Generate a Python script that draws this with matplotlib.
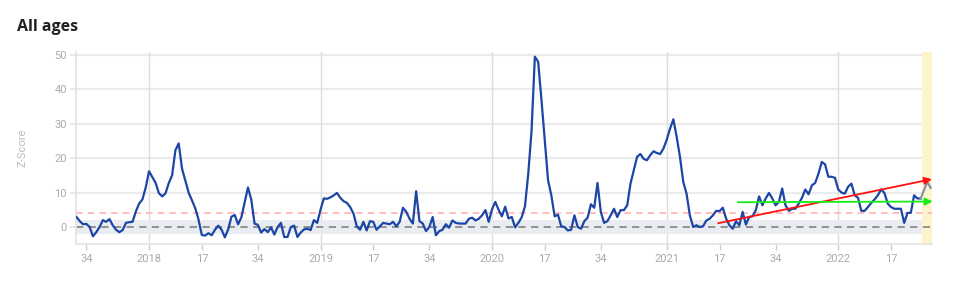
import matplotlib
matplotlib.use('Agg')
import matplotlib.pyplot as plt

# ---------------- data ----------------
start_year, start_week = 2017, 31
weeks_in_year = {2017: 52, 2018: 52, 2019: 52, 2020: 53, 2021: 52, 2022: 52}
tick_weeks = [1, 17, 34]

zscore = [
    2.9, 1.7, 0.8, 0.9, 0.0, -2.7, -1.5, 0.0, 2.0, 1.5,
    2.3, 0.5, -0.8, -1.5, -0.9, 1.2, 1.4, 1.5, 4.5, 6.8,
    8.0, 11.5, 16.2, 14.5, 12.8, 9.8, 8.9, 9.8, 12.8, 15.0,
    22.3, 24.3, 17.0, 13.5, 10.0, 7.8, 5.5, 2.2, -2.3, -2.5,
    -1.8, -2.4, -0.8, 0.4, -0.8, -3.0, -0.7, 3.0, 3.5, 0.8,
    2.8, 7.2, 11.5, 8.0, 1.0, 0.6, -1.6, -0.6, -1.5, -0.1,
    -2.2, 0.0, 1.2, -2.9, -2.9, 0.0, 0.4, -2.9, -1.6, -0.7,
    -0.5, -0.9, 2.0, 1.2, 5.0, 8.3, 8.2, 8.6, 9.2, 9.9,
    8.5, 7.5, 7.0, 5.8, 3.9, 0.2, -0.8, 1.5, -1.0, 1.7,
    1.5, -0.8, 0.2, 1.2, 1.0, 0.8, 1.5, 0.2, 1.5, 5.6,
    4.4, 2.4, 1.0, 10.4, 1.7, 1.0, -1.2, 0.0, 2.9, -2.4,
    -1.2, -0.8, 0.8, -0.2, 1.9, 1.2, 1.0, 1.0, 1.0, 2.4,
    2.7, 1.9, 2.4, 3.4, 4.9, 1.5, 5.1, 7.3, 5.0, 3.1,
    5.9, 2.5, 2.9, -0.1, 1.2, 2.8, 6.0, 15.5, 28.0, 49.5,
    48.0, 37.0, 25.2, 13.6, 9.2, 3.1, 3.6, 0.2, 0.0, -1.0,
    -0.8, 3.4, 0.0, -0.5, 1.7, 2.7, 6.6, 5.6, 12.8, 4.4,
    1.2, 1.7, 3.4, 5.3, 2.9, 4.9, 4.9, 6.3, 12.6, 16.5,
    20.4, 21.2, 19.8, 19.4, 20.9, 22.0, 21.5, 21.2, 22.8, 25.4,
    28.6, 31.3, 26.2, 20.4, 13.1, 9.7, 3.4, 0.0, 0.5, 0.0,
    0.2, 1.9, 2.4, 3.4, 4.7, 4.6, 5.6, 2.4, 0.5, -0.5,
    1.7, 0.5, 4.4, 0.7, 2.9, 3.1, 4.9, 8.9, 6.3, 8.3,
    9.9, 8.3, 6.3, 7.3, 11.2, 6.3, 4.7, 5.3, 5.3, 6.8,
    8.5, 10.9, 9.5, 12.1, 12.8, 15.5, 18.9, 18.2, 14.6, 14.6,
    14.3, 10.9, 10.0, 9.7, 11.7, 12.6, 9.2, 8.5, 4.7, 4.7,
    5.8, 7.0, 8.0, 9.2, 10.9, 9.9, 6.8, 5.8, 5.3, 5.3,
    5.3, 1.2, 4.1, 4.1, 9.2, 8.3, 8.3, 10.7, 13.1, 11.4,
]
highlight_weeks = 3          # last weeks (provisional) shaded yellow
baseline_band = (-2, 2)
threshold = 4.2
red_trend = [(194.6, 1.1), (259.4, 13.9)]
green_trend = [(200.5, 7.2), (259.6, 7.4)]

# ---------------- week labels ----------------
yw = []
y, w = start_year, start_week
for _ in range(len(zscore)):
    yw.append((y, w))
    w += 1
    if w > weeks_in_year[y]:
        y += 1
        w = 1
x = list(range(len(zscore)))
tick_pos = [i for i, (yy, ww) in enumerate(yw) if ww in tick_weeks]
tick_lab = [str(yy) if ww == 1 else str(ww) for (yy, ww) in (yw[i] for i in tick_pos)]
year_pos = [i for i, (yy, ww) in enumerate(yw) if ww == 1]

# ---------------- figure ----------------
plt.rcParams['font.family'] = ['Roboto', 'DejaVu Sans']
fig = plt.figure(figsize=(9.73, 2.82), dpi=100)
ax = fig.add_axes([0.0786, 0.134, 0.8795, 0.681])

n = len(zscore)
ax.set_xlim(0, n - 0.5)
ax.set_ylim(-5, 50.8)

# grid
for v in [0, 10, 20, 30, 40, 50]:
    ax.axhline(v, color='#ebebeb', lw=1.6, zorder=0)
for p in year_pos:
    ax.axvline(p, color='#dcdcdc', lw=1.0, zorder=0)

# bands
ax.axhspan(baseline_band[0], baseline_band[1], color='#e9edf2', zorder=1, lw=0)
ax.axvspan(n - highlight_weeks - 0.5, n - 0.5, color='#fdf4cc', zorder=1.5, lw=0)

# reference lines
ax.axhline(0, color='#8a8a8a', lw=1.3, ls=(0, (4, 3)), zorder=2)
ax.axhline(threshold, color='#ffb3b3', lw=1.2, ls=(0, (4, 3)), zorder=2)

# data line
split = n - highlight_weeks - 1
ax.plot(x[:split + 1], zscore[:split + 1], color='#1c46a6', lw=1.6, zorder=4,
        solid_joinstyle='round')
ax.plot(x[split:], zscore[split:], color='#8593a8', lw=1.6, zorder=4,
        solid_joinstyle='round')

# trend arrows
for pts, col in [(red_trend, '#ff1111'), (green_trend, '#15ee15')]:
    ax.annotate('', xy=pts[1], xytext=pts[0], annotation_clip=False,
                arrowprops=dict(arrowstyle='-|>', color=col, lw=1.3,
                                mutation_scale=11, shrinkA=0, shrinkB=0),
                zorder=5)

# axes styling
for s in ['top', 'right']:
    ax.spines[s].set_visible(False)
for s in ['left', 'bottom']:
    ax.spines[s].set_color('#e3e3e3')
    ax.spines[s].set_linewidth(1.2)
ax.set_xticks(tick_pos)
ax.set_xticklabels(tick_lab)
ax.set_yticks([0, 10, 20, 30, 40, 50])
ax.tick_params(axis='x', colors='#cccccc', labelcolor='#aaaaaa', labelsize=8,
               length=4, width=1, pad=3)
ax.tick_params(axis='y', colors='#e3e3e3', labelcolor='#aaaaaa', labelsize=8,
               length=4, width=1.2, pad=3)

fig.text(0.0233, 0.475, 'Z-Score', rotation=90, ha='center', va='center',
         fontsize=8, color='#bbbbbb')
fig.text(0.0178, 0.891, 'All ages', ha='left', va='baseline', fontsize=11.5,
         fontweight='bold', color='#222222', family=['Open Sans', 'DejaVu Sans'])

fig.savefig('out.png', dpi=100)
